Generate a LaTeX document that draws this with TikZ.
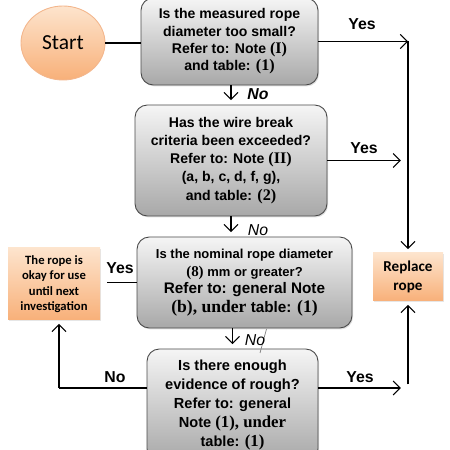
\documentclass[tikz,border=0pt]{standalone}
\usepackage{fontspec}
\setmainfont{Liberation Sans}
\newfontfamily\numfont[Scale=1.15]{Liberation Serif}
\newfontfamily\calfont{Carlito}
\usetikzlibrary{arrows.meta,shapes.geometric,shadows}

\definecolor{boxline}{HTML}{4A4A4A}
\definecolor{graytop}{HTML}{F5F5F5}
\definecolor{graybot}{HTML}{A8A8A8}
\definecolor{orgtop}{HTML}{FDE4CD}
\definecolor{orgbot}{HTML}{F8B079}
\definecolor{orgline}{HTML}{F3B68C}

\newcommand{\tnum}[1]{{\numfont\bfseries #1}}

\begin{document}
\begin{tikzpicture}[
        question/.style={rectangle, rounded corners=7pt, draw=boxline, line width=0.5pt, top color=graytop, bottom color=graybot, align=center, inner sep=1pt, drop shadow={opacity=0.25, shadow xshift=0.6pt, shadow yshift=-0.8pt}},
        answer/.style={rectangle, top color=orgtop, bottom color=orgbot, align=center, inner sep=1pt, drop shadow={opacity=0.2, shadow xshift=0.5pt, shadow yshift=-0.8pt}},
        flow/.style={line width=0.6pt, -{Straight Barb[length=4pt,width=8pt]}},
        link/.style={line width=0.6pt},
        lbl/.style={font=\fontsize{9}{10}\selectfont\bfseries}
    ]
        \clip (0, 0) rectangle (9, 9);

        \node[ellipse, draw=orgline, line width=0.5pt, top color=orgtop, bottom color=orgbot, minimum width=1.68cm, minimum height=1.48cm, font=\calfont\fontsize{12.2}{14}\selectfont] (S) at (1.26, 8.14) {Start};

        \node[question, minimum width=3.54cm, minimum height=1.74cm, font=\fontsize{8}{9.9}\selectfont\bfseries] (Q1) at (4.59, 8.17) {Is the measured rope\\diameter too small?\\Refer to: Note \tnum{(I)}\\and table: \tnum{(1)}};
        \node[question, minimum width=3.84cm, minimum height=2.22cm, font=\fontsize{8}{10.3}\selectfont\bfseries] (Q2) at (4.62, 5.79) {Has the wire break\\criteria been exceeded?\\Refer to: Note \tnum{(II)}\\(a, b, c, d, f, g),\\and table: \tnum{(2)}};
        \node[question, minimum width=4.3cm, minimum height=1.82cm, font=\fontsize{7.4}{10.6}\selectfont\bfseries] (Q3) at (4.89, 3.35) {Is the nominal rope diameter\\\tnum{(8)} mm or greater?\\[-1pt]{\fontsize{8.7}{10.6}\selectfont Refer to: general Note}\\{\fontsize{8.7}{10.6}\selectfont\tnum{(b), under} table: \tnum{(1)}}};
        \node[question, minimum width=3.42cm, minimum height=2.24cm, font=\fontsize{8.3}{10.8}\selectfont\bfseries] (Q4) at (4.65, 0.9) {Is there enough\\evidence of rough?\\Refer to: general\\Note \tnum{(1), under}\\table: \tnum{(1)}};

        \node[answer, minimum width=1.84cm, minimum height=1.44cm, font=\calfont\fontsize{7.2}{8.7}\selectfont\bfseries] (OK) at (1.08, 3.32) {The rope is\\okay for use\\until next\\investigation};
        \node[answer, minimum width=1.4cm, minimum height=0.96cm, font=\calfont\fontsize{8.6}{10.8}\selectfont\bfseries] (R) at (8.16, 3.46) {Replace\\rope};

        \coordinate (Y3) at (2.14, 3.35);
        \coordinate (N4) at (1.18, 1.24);

        \draw[link] (S.east) -- (S.east -| Q1.west);

        \draw[flow] (Q1.east) -- (Q1.east -| R.north);
        \draw[flow, shorten >=2pt] (Q1.east -| R.north) -- (R.north);
        \draw[flow, shorten >=2pt] (Q2.east) -- ([xshift=-2pt]Q2.east -| R.north);
        \draw[link] (Q3.west) -- (Y3);
        \draw[link] (N4 -| Q4.west) -- (N4);
        \draw[flow, shorten >=2pt] (N4) -- (N4 |- OK.south);
        \draw[flow, shorten >=2pt] (N4 -| Q4.east) -- ([xshift=-2pt]N4 -| R.south);
        \draw[flow, shorten >=2pt] ([yshift=2pt]N4 -| R.south) -- (R.south);

        \draw[flow, shorten >=2.5pt] (Q1.south -| Q2.north) -- (Q2.north);
        \draw[flow, shorten >=2.5pt] (Q2.south) -- (Q2.south |- Q3.north);
        \draw[flow, shorten >=2.5pt] (Q3.south -| Q4.north) -- (Q4.north);
        \draw[gray, line width=0.4pt] (5.33, 2.42) -- (5.2, 1.94);

        \node[lbl] (L1) at (7.24, 8.52) {Yes};
        \node[lbl] (L2) at (7.28, 6.04) {Yes};
        \node[lbl] (L3) at (2.4, 3.64) {Yes};
        \node[lbl] (L4) at (2.3, 1.46) {No};
        \node[lbl] (L5) at (7.2, 1.46) {Yes};
        \node[font=\fontsize{9}{10}\selectfont\bfseries\itshape] (M1) at (5.16, 7.12) {No};
        \node[font=\fontsize{9}{10}\selectfont\itshape] (M2) at (5.16, 4.4) {No};
        \node[font=\fontsize{9}{10}\selectfont\itshape] (M3) at (5.1, 2.2) {No};
\end{tikzpicture}
\end{document}
